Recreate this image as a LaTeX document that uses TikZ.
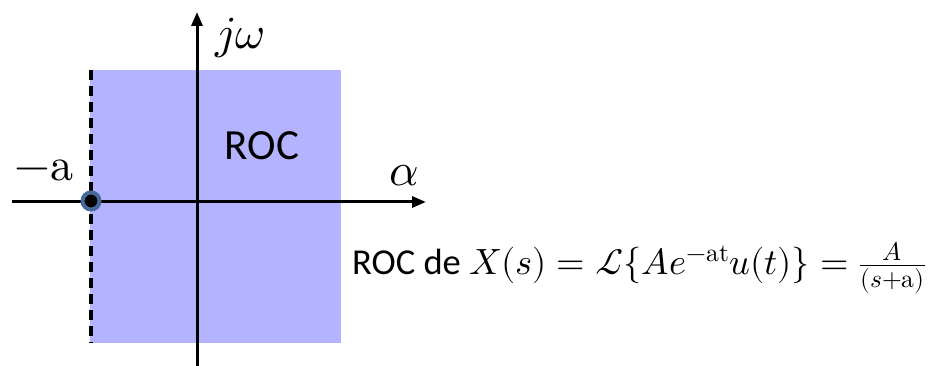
\documentclass[tikz,border=0pt]{standalone}
\usepackage{fontspec}
\usepackage{unicode-math}
\setmainfont{Carlito}
\setmathfont{Latin Modern Math}
\usetikzlibrary{arrows.meta}
\definecolor{roc}{HTML}{B3B3FF}
\definecolor{ring}{HTML}{46699A}
\tikzset{
  axis/.style={line width=3pt, -{Triangle[length=14pt,width=11pt]}},
  bound/.style={line width=3.2pt, dash pattern=on 10pt off 6pt},
  lbl/.style={inner sep=0pt, font=\fontsize{46}{50}\selectfont}
}
\begin{document}
\begin{tikzpicture}[x=1pt,y=-1pt]
\useasboundingbox (0,0) rectangle (935,366);
\fill[roc] (90,70) rectangle (341,343);
\coordinate (xs) at (12,202);
\coordinate (xe) at (426,202);
\coordinate (ys) at (197,366);
\coordinate (ye) at (197,12);
\coordinate (bt) at (91,70);
\coordinate (bb) at (91,343);
\draw[bound] (bt) -- (bb);
\draw[axis] (xs) -- (xe);
\draw[axis] (ys) -- (ye);
\node[circle, fill=black, draw=ring, line width=4pt, minimum size=17pt, inner sep=0pt] (p) at (91,201) {};
\node[inner sep=0pt, font=\fontsize{43}{47}\selectfont] (roclbl) at (262,146) {ROC};
\node[lbl] (jw) at (240,38) {$j\omega$};
\node[lbl] (al) at (404,176) {$\alpha$};
\node[lbl] (ma) at (44,170) {$-\symup{a}$};
\node[inner sep=0pt, anchor=west, font=\fontsize{36.5}{40}\selectfont] (eq) at (352,268) {ROC de $X(s)=\mathcal{L}\{Ae^{-\symup{at}}u(t)\}=\frac{A}{(s+\symup{a})}$};
\end{tikzpicture}
\end{document}
